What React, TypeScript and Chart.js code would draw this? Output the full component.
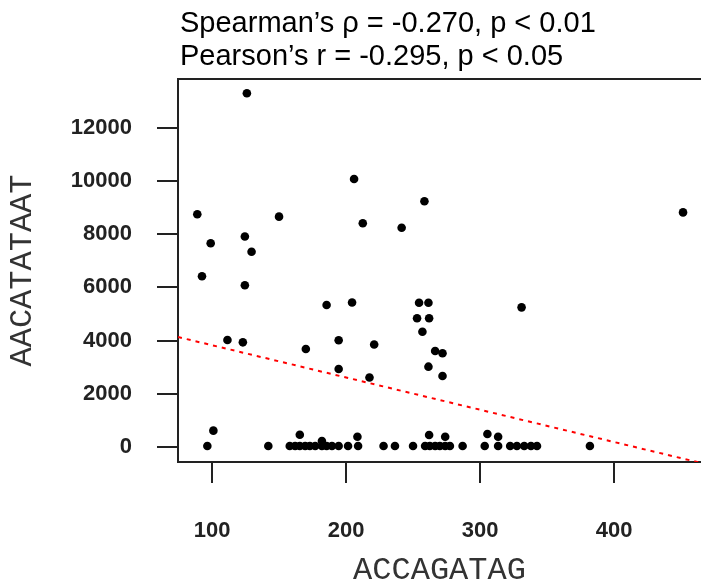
import React, { useEffect, useRef } from "react";
import { Chart, registerables } from "chart.js";

Chart.register(...registerables);

const TITLE_LINES = ["Spearman’s ρ = -0.270, p < 0.01", "Pearson’s r = -0.295, p < 0.05"];
const X_LABEL = "ACCAGATAG";
const Y_LABEL = "AACATATAAT";
const X_TICKS = [100, 200, 300, 400];
const Y_TICKS = [0, 2000, 4000, 6000, 8000, 10000, 12000];
const X_MIN = 74.6;
const X_MAX = 464.9;
const Y_MIN = -564;
const Y_MAX = 13835;
const FIT_INTERCEPT = 5040;
const FIT_SLOPE = -12.13;

const X_VALUES = [
  126, 206, 89, 150, 212.5, 258.5, 241.5, 451.5, 99, 124.5, 129.5, 92.5, 124.5,
  185.5, 204.5, 254.5, 261.5, 253, 262, 257, 331, 111.5, 123, 170, 194.5, 221,
  266.5, 272, 194.5, 261.5, 272, 217.5, 101,
  96.5, 142, 158, 162, 165.5, 169.5, 173, 177, 182, 185.5, 189.5, 194.5, 201.5,
  209, 228, 236.5, 250, 259, 262.5, 266.5, 270, 274, 277.5, 287, 303.5, 313.5,
  322.5, 327.5, 333, 338, 342.5, 382,
  165.5, 182, 208.5, 262, 274, 305.5, 313.5,
];
const Y_VALUES = [
  13300, 10075, 8750, 8660, 8410, 9240, 8245, 8820, 7660, 7915, 7340, 6420, 6080,
  5340, 5430, 5425, 5425, 4840, 4840, 4335, 5250, 4025, 3935, 3685, 4015, 3855,
  3610, 3525, 2930, 3020, 2670, 2615, 615,
  38, 38, 38, 38, 38, 38, 38, 38, 38, 38, 38, 38, 38,
  38, 38, 38, 38, 38, 38, 38, 38, 38, 38, 38, 38, 38,
  38, 38, 38, 38, 38, 38,
  460, 225, 385, 450, 385, 490, 385,
];

const framePlugin = {
  id: "frame",
  afterDraw(chart: any) {
    const { ctx, chartArea } = chart;
    ctx.save();
    ctx.strokeStyle = "#222";
    ctx.lineWidth = 2;
    ctx.beginPath();
    ctx.moveTo(chartArea.left - 1, chartArea.top);
    ctx.lineTo(chartArea.right, chartArea.top);
    ctx.stroke();
    ctx.fillStyle = "#000";
    ctx.font = '29px "Liberation Sans", Arial, sans-serif';
    ctx.textBaseline = "alphabetic";
    ctx.textAlign = "left";
    TITLE_LINES.forEach((t, i) => ctx.fillText(t, chartArea.left + 2, chartArea.top - 47 + i * 33));
    ctx.restore();
  },
};

export default function App() {
  const ref = useRef<HTMLCanvasElement>(null);
  useEffect(() => {
    const points = X_VALUES.map((x, i) => ({ x, y: Y_VALUES[i] }));
    const fit = [X_MIN, X_MAX].map((x) => ({ x, y: FIT_INTERCEPT + FIT_SLOPE * x }));
    const tickFont = { family: '"Liberation Sans", Arial, sans-serif', size: 22, weight: "bold" as const };
    const titleFont = { family: '"Liberation Mono", "Courier New", monospace', size: 32, lineHeight: 1 };
    const chart = new Chart(ref.current!, {
      type: "scatter",
      data: {
        datasets: [
          {
            type: "line",
            data: fit,
            borderColor: "#ff0000",
            borderWidth: 2,
            borderDash: [4, 5],
            pointRadius: 0,
            fill: false,
          } as any,
          {
            data: points,
            backgroundColor: "#000",
            borderColor: "#000",
            borderWidth: 0,
            pointRadius: 4.3,
          },
        ],
      },
      options: {
        responsive: false,
        animation: false,
        devicePixelRatio: 1,
        layout: { autoPadding: false, padding: { left: 0, right: 0, top: 79, bottom: 0 } },
        plugins: { legend: { display: false }, tooltip: { enabled: false }, title: { display: false } },
        scales: {
          x: {
            type: "linear",
            min: X_MIN,
            max: X_MAX,
            afterBuildTicks: (s: any) => { s.ticks = X_TICKS.map((v) => ({ value: v })); },
            afterFit: (s: any) => { s.height = 126; },
            grid: { display: true, drawOnChartArea: false, drawTicks: true, tickLength: 21, color: "#222", lineWidth: 2 },
            border: { display: true, color: "#222", width: 2 },
            ticks: { font: tickFont, color: "#222", padding: 35, autoSkip: false, maxRotation: 0, callback: (v: any) => String(v) },
            title: { display: true, text: X_LABEL, font: titleFont, color: "#333", padding: { top: 0, bottom: 1 } },
          },
          y: {
            type: "linear",
            min: Y_MIN,
            max: Y_MAX,
            afterBuildTicks: (s: any) => { s.ticks = Y_TICKS.map((v) => ({ value: v })); },
            afterFit: (s: any) => { s.width = 178; },
            grid: { display: true, drawOnChartArea: false, drawTicks: true, tickLength: 21, color: "#222", lineWidth: 2 },
            border: { display: true, color: "#222", width: 2 },
            ticks: { font: tickFont, color: "#222", padding: 25, autoSkip: false, callback: (v: any) => String(v) },
            title: { display: true, text: Y_LABEL, font: titleFont, color: "#333", padding: { top: 7, bottom: 0 } },
          },
        },
      },
      plugins: [framePlugin],
    });
    return () => chart.destroy();
  }, []);
  return (
    <div style={{ position: "fixed", left: 0, top: 0, width: 701, height: 588, background: "#fff" }}>
      <canvas ref={ref} width={701} height={588} style={{ display: "block", width: 701, height: 588 }} />
    </div>
  );
}
